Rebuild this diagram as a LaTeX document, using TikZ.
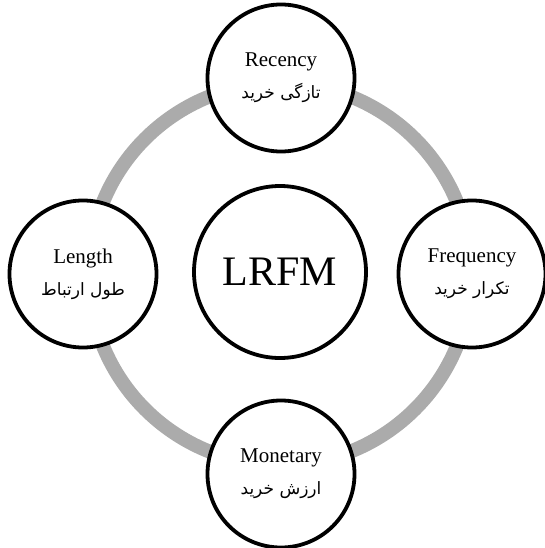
\documentclass[tikz,border=0pt]{standalone}
\usepackage{fontspec}
\usepackage{tikz}
\setmainfont{Liberation Serif}
\newfontfamily\fafont[Script=Arabic]{DejaVu Sans}
\TeXXeTstate=1
\newcommand{\fa}[1]{{\fafont\fontsize{17}{32}\selectfont\beginR #1\endR}}

\begin{document}
\begin{tikzpicture}[x=1pt, y=-1pt, fill=white,
        part/.style={circle, draw, fill=white, line width=3.8pt, minimum size=147pt, inner sep=0pt, align=center, font=\fontsize{21}{32}\selectfont},
        core/.style={circle, draw, fill=white, line width=3.8pt, minimum size=172pt, inner sep=0pt, font=\fontsize{42}{48}\selectfont},
        ring/.style={draw=black!33, line width=14pt}]
            \useasboundingbox (0, 0) rectangle (545, 548);
            \draw[ring] (280, 274) circle (191);
            
            \node[core] (lrfm) at (280, 272) {LRFM};
            
            \node[part] (rec) at (281, 78) {Recency\\ \fa{تازگی خرید}};
            \node[part] (freq) at (472, 274) {Frequency\\ \fa{تکرار خرید}};
            \node[part] (mon) at (281, 474) {Monetary\\ \fa{ارزش خرید}};
            \node[part] (len) at (83, 274) {Length\\ \fa{طول ارتباط}};
        \end{tikzpicture}
\end{document}
